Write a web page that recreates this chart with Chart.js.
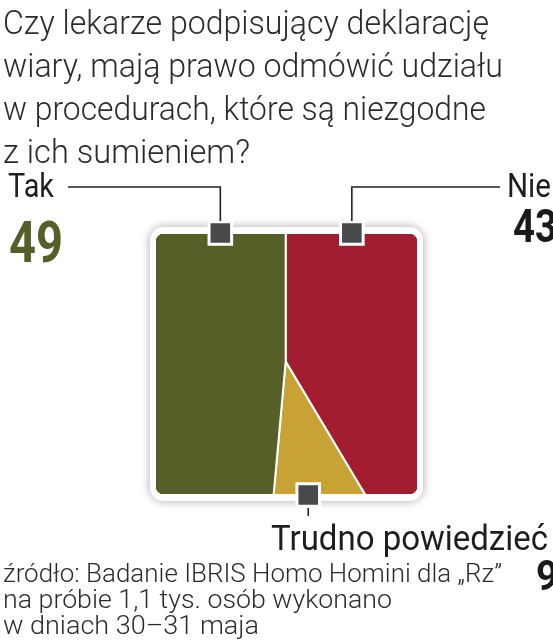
<!DOCTYPE html>
<html lang="pl">
<head>
<meta charset="utf-8">
<title>Deklaracja wiary</title>
<script src="https://cdn.jsdelivr.net/npm/chart.js@4.4.1/dist/chart.umd.min.js"></script>
<style>
  html, body { margin: 0; padding: 0; background: #fff; }
  #wrap { width: 553px; height: 640px; }
</style>
</head>
<body>
<div id="wrap"><canvas id="chart" width="553" height="640"></canvas></div>
<script>
// --- dane ---
const question = [
    'Czy lekarze podpisujący deklarację',
    'wiary, mają prawo odmówić udziału',
    'w procedurach, które są niezgodne',
    'z ich sumieniem?'
];
const categories = ['Tak', 'Nie', 'Trudno powiedzieć'];
const values = [49, 43, 9];
const colors = ['#565f28', '#a31d31', '#c8a234'];
const sourceLines = [
    'źródło: Badanie IBRIS Homo Homini dla „Rz”',
    'na próbie 1,1 tys. osób wykonano',
    'w dniach 30–31 maja'
];

// --- geometria kwadratu (pola proporcjonalne do wartości) ---
const APEX_H = 51;   // wysokość wierzchołka trójkąta "trudno powiedzieć"
const TILT = 4.6;    // przesunięcie dolnej krawędzi pola "tak"
const total = values.reduce((s, v) => s + v, 0);
const areaTak = values[0] / total * 10000;
const areaTrudno = values[2] / total * 10000;
const xTop = (areaTak + 0.5 * TILT * APEX_H) / 100;
const xBottom = xTop - TILT;
const xRight = xBottom + 2 * areaTrudno / APEX_H;

const shapes = [
    [{x: 0, y: 0}, {x: 0, y: 100}, {x: xTop, y: 100}, {x: xTop, y: APEX_H}, {x: xBottom, y: 0}, {x: 0, y: 0}],
    [{x: xTop, y: 100}, {x: 100, y: 100}, {x: 100, y: 0}, {x: xRight, y: 0}, {x: xTop, y: APEX_H}, {x: xTop, y: 100}],
    [{x: xBottom, y: 0}, {x: xTop, y: APEX_H}, {x: xRight, y: 0}, {x: xBottom, y: 0}]
];
const markers = [
    {x: xTop / 2, y: 100},
    {x: (xTop + 100) / 2, y: 100},
    {x: (xTop + xBottom + xRight) / 3, y: 0}
];

// tekst dopasowany do szerokości
function fitText(ctx, text, x, y, width, font, color) {
    ctx.save();
    ctx.font = font;
    ctx.fillStyle = color;
    ctx.textBaseline = 'alphabetic';
    const w = ctx.measureText(text).width;
    ctx.translate(x, y);
    ctx.scale(width / w, 1);
    ctx.fillText(text, 0, 0);
    ctx.restore();
}

function roundRect(ctx, x, y, w, h, r) {
    ctx.moveTo(x + r, y);
    ctx.arcTo(x + w, y, x + w, y + h, r);
    ctx.arcTo(x + w, y + h, x, y + h, r);
    ctx.arcTo(x, y + h, x, y, r);
    ctx.arcTo(x, y, x + w, y, r);
    ctx.closePath();
}

const framePlugin = {
    id: 'frame',
    beforeDatasetsDraw(chart) {
        const {ctx, chartArea: a} = chart;
        ctx.save();
        ctx.shadowColor = 'rgba(0,0,0,0.35)';
        ctx.shadowBlur = 10;
        ctx.fillStyle = '#fff';
        ctx.beginPath();
        roundRect(ctx, a.left - 5, a.top - 6, a.width + 10, a.height + 12, 14);
        ctx.fill();
        ctx.restore();
    },
    beforeDatasetDraw(chart, args) {
        if (args.index !== 0) return;
        // biała ramka z zaokrąglonymi rogami nad polami, pod znacznikami
        const {ctx, chartArea: a} = chart;
        ctx.save();
        ctx.fillStyle = '#fff';
        ctx.beginPath();
        roundRect(ctx, a.left - 5, a.top - 6, a.width + 10, a.height + 12, 14);
        roundRect(ctx, a.left, a.top, a.width, a.height, 10);
        ctx.fill('evenodd');
        ctx.restore();
    },
    afterDraw(chart) {
        const {ctx} = chart;
        const xs = chart.scales.x, ys = chart.scales.y;
        const light = '300 34px Roboto';
        const dark = '#2b2b2b';

        // pytanie
        const qWidths = [486, 500, 483, 247];
        const qBase = [34, 77, 120, 163];
        question.forEach((t, i) => fitText(ctx, t, 3, qBase[i], qWidths[i], light, dark));

        // linie odniesienia
        const m0 = {x: xs.getPixelForValue(markers[0].x), y: ys.getPixelForValue(markers[0].y)};
        const m1 = {x: xs.getPixelForValue(markers[1].x), y: ys.getPixelForValue(markers[1].y)};
        const m2 = {x: xs.getPixelForValue(markers[2].x), y: ys.getPixelForValue(markers[2].y)};
        ctx.save();
        ctx.strokeStyle = '#222';
        ctx.lineWidth = 1.6;
        ctx.beginPath();
        ctx.moveTo(68, 187); ctx.lineTo(m0.x, 187); ctx.lineTo(m0.x, m0.y - 12);
        ctx.moveTo(500, 187); ctx.lineTo(m1.x, 187); ctx.lineTo(m1.x, m1.y - 12);
        ctx.moveTo(m2.x, m2.y + 13); ctx.lineTo(m2.x, 516);
        ctx.stroke();
        ctx.restore();

        // etykiety kategorii i wartości
        fitText(ctx, categories[0], 8, 197, 46, '400 34px Roboto', '#1e1e1e');
        fitText(ctx, String(values[0]), 9, 262, 54, '700 58px Roboto', colors[0]);
        fitText(ctx, categories[1], 507, 197, 44, '400 34px Roboto', '#1e1e1e');
        fitText(ctx, String(values[1]), 513, 242, 44, '700 47px Roboto', '#1a1a1a');
        fitText(ctx, categories[2], 271, 550, 277, '400 35px Roboto', '#1e1e1e');
        fitText(ctx, String(values[2]), 536, 590, 22, '700 42px Roboto', '#1a1a1a');

        // źródło
        const sWidths = [499, 389, 256];
        const sBase = [582, 608, 634];
        sourceLines.forEach((t, i) => fitText(ctx, t, 3, sBase[i], sWidths[i], '300 25px Roboto', dark));
    }
};

const polygonSets = shapes.map((pts, i) => ({
    label: categories[i],
    data: pts,
    showLine: true,
    fill: 'shape',
    backgroundColor: colors[i],
    borderColor: '#fff',
    borderWidth: 2,
    tension: 0,
    pointRadius: 0
}));

new Chart(document.getElementById('chart'), {
    type: 'scatter',
    data: {
        datasets: [{
            label: 'znaczniki',
            data: markers,
            pointStyle: 'rect',
            pointRadius: 16,
            backgroundColor: '#47494b',
            borderColor: '#fff',
            borderWidth: 3,
            clip: false
        }].concat(polygonSets)
    },
    options: {
        responsive: false,
        animation: false,
        layout: { padding: { left: 155, right: 135, top: 233, bottom: 145 } },
        scales: {
            x: { type: 'linear', min: 0, max: 100, display: false },
            y: { type: 'linear', min: 0, max: 100, display: false }
        },
        plugins: {
            legend: { display: false },
            tooltip: { enabled: false }
        }
    },
    plugins: [framePlugin]
});
</script>
</body>
</html>
